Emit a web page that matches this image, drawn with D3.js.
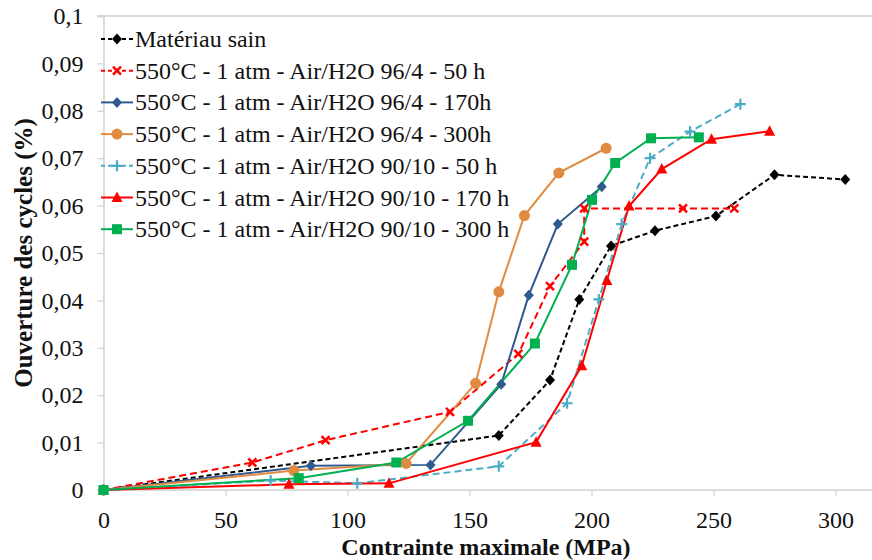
<!DOCTYPE html>
<html>
<head>
<meta charset="utf-8">
<script src="https://cdn.jsdelivr.net/npm/d3@7"></script>
</head>
<body style="margin:0;background:#fff">
<svg id="chart" width="872" height="560"></svg>
<script>
// ---- Data ----
const seriesNames = [
  "Matériau sain",
  "550°C - 1 atm - Air/H2O 96/4 - 50 h",
  "550°C - 1 atm - Air/H2O 96/4 - 170h",
  "550°C - 1 atm - Air/H2O 96/4 - 300h",
  "550°C - 1 atm - Air/H2O 90/10 - 50 h",
  "550°C - 1 atm - Air/H2O 90/10 - 170 h",
  "550°C - 1 atm - Air/H2O 90/10 - 300 h"
];
const sainX = [0, 162, 183, 195, 208, 226, 251, 275, 304];
const sainY = [0, 0.0115, 0.0232, 0.0402, 0.0515, 0.0547, 0.0578, 0.0665, 0.0655];
const a96_50X = [0, 61, 91, 142, 170, 183, 197, 197, 237.5, 258.5];
const a96_50Y = [0, 0.0058, 0.0105, 0.0165, 0.0287, 0.0430, 0.0524, 0.0594, 0.0594, 0.0594];
const a96_170X = [0, 85, 134, 163, 174.3, 186.2, 204.2];
const a96_170Y = [0, 0.0051, 0.0053, 0.0223, 0.0411, 0.0561, 0.0640];
const a96_300X = [0, 78, 124, 152.5, 162, 172.5, 186.6, 206];
const a96_300Y = [0, 0.0041, 0.0056, 0.0225, 0.0418, 0.0579, 0.0669, 0.0721];
const a90_50X = [0, 68.5, 104, 162, 190, 203, 212.4, 224, 240.4, 261];
const a90_50Y = [0, 0.0020, 0.0014, 0.0050, 0.0183, 0.0402, 0.0561, 0.0700, 0.0756, 0.0814];
const a90_170X = [0, 76, 117, 177.3, 196, 206.3, 215.4, 228.8, 249.2, 273];
const a90_170Y = [0, 0.0012, 0.0014, 0.0101, 0.0262, 0.0442, 0.0599, 0.0677, 0.0740, 0.0757];
const a90_300X = [0, 80, 120, 149.4, 176.8, 192, 200.2, 209.7, 224.4, 244];
const a90_300Y = [0, 0.0025, 0.0058, 0.0146, 0.0309, 0.0475, 0.0612, 0.0690, 0.0742, 0.0744];
const xTicks = [0, 50, 100, 150, 200, 250, 300];
const yTicks = [0, 0.01, 0.02, 0.03, 0.04, 0.05, 0.06, 0.07, 0.08, 0.09, 0.1];
const xTitle = "Contrainte maximale (MPa)";
const yTitle = "Ouverture des cycles (%)";

// ---- Styles ----
const styles = [
  { color: "#000000", dash: "5,3", marker: "diamond" },
  { color: "#ff0000", dash: "7,4", marker: "cross" },
  { color: "#2f5a8e", dash: null, marker: "diamond" },
  { color: "#e08b42", dash: null, marker: "circle" },
  { color: "#4bacc6", dash: "7,4", marker: "plus" },
  { color: "#ff0000", dash: null, marker: "triangle" },
  { color: "#00b050", dash: null, marker: "square" }
];
const xs = [sainX, a96_50X, a96_170X, a96_300X, a90_50X, a90_170X, a90_300X];
const ys = [sainY, a96_50Y, a96_170Y, a96_300Y, a90_50Y, a90_170Y, a90_300Y];
const series = seriesNames.map((name, i) => ({
  name, style: styles[i],
  pts: xs[i].map((x, j) => ({ x, y: ys[i][j] }))
}));

const FONT = '"Liberation Serif"';
const svg = d3.select("#chart");
const x = d3.scaleLinear().domain([0, 300]).range([103.5, 835.5]);
const y = d3.scaleLinear().domain([0, 0.1]).range([490, 16]);
const axisColor = "#d0d0d0";
const fmt = d => d === 0 ? "0" : d3.format(".2~f")(d).replace(".", ",");

// top border line
svg.append("line").attr("x1", 97).attr("x2", 872).attr("y1", y(0.1)).attr("y2", y(0.1))
  .attr("stroke", axisColor).attr("stroke-width", 1.5);

// Y axis
const yAxis = svg.append("g").attr("transform", `translate(${x(0)},0)`)
  .call(d3.axisLeft(y).tickValues(yTicks).tickFormat(fmt).tickSize(6).tickPadding(14));
yAxis.select(".domain").attr("stroke", axisColor).attr("stroke-width", 1.5);
yAxis.selectAll(".tick line").attr("stroke", axisColor).attr("stroke-width", 1.2);
yAxis.selectAll(".tick text").attr("fill", "#111")
  .style("font-family", FONT).style("font-size", "24px");

// X axis
const xAxis = svg.append("g").attr("transform", `translate(0,${y(0)})`)
  .call(d3.axisBottom(x).tickValues(xTicks).tickFormat(d3.format("d")).tickSize(6).tickPadding(15));
xAxis.select(".domain").remove();
xAxis.append("line").attr("x1", x(0)).attr("x2", 872).attr("y1", 0).attr("y2", 0)
  .attr("stroke", axisColor).attr("stroke-width", 1.5);
xAxis.selectAll(".tick line").attr("stroke", axisColor).attr("stroke-width", 1.2);
xAxis.selectAll(".tick text").attr("fill", "#111")
  .style("font-family", FONT).style("font-size", "24px");

// Axis titles
svg.append("text").attr("x", 486).attr("y", 555).attr("text-anchor", "middle")
  .style("font-family", FONT).style("font-size", "24px").style("font-weight", "bold")
  .attr("fill", "#111").text(xTitle);
svg.append("text").attr("transform", "translate(32,253) rotate(-90)").attr("text-anchor", "middle")
  .style("font-family", FONT).style("font-size", "25px").style("font-weight", "bold")
  .attr("fill", "#111").text(yTitle);

// Marker drawing
function drawMarker(g, type, color) {
  switch (type) {
    case "diamond":
      g.append("path").attr("d", "M0,-5.5L5,0L0,5.5L-5,0Z").attr("fill", color); break;
    case "circle":
      g.append("circle").attr("r", 5.5).attr("fill", color); break;
    case "square":
      g.append("rect").attr("x", -5).attr("y", -5).attr("width", 10).attr("height", 10).attr("fill", color); break;
    case "triangle":
      g.append("path").attr("d", "M0,-6L5.5,4.5L-5.5,4.5Z").attr("fill", color); break;
    case "cross":
      g.append("path").attr("d", "M-4,-4L4,4M-4,4L4,-4").attr("stroke", color).attr("stroke-width", 2.5); break;
    case "plus":
      g.append("path").attr("d", "M-5.5,0L5.5,0M0,-5.5L0,5.5").attr("stroke", color).attr("stroke-width", 2.2); break;
  }
}

// Lines
const line = d3.line().x(d => x(d.x)).y(d => y(d.y));
const plot = svg.append("g");
series.forEach(s => {
  plot.append("path").datum(s.pts).attr("d", line).attr("fill", "none")
    .attr("stroke", s.style.color).attr("stroke-width", 2)
    .attr("stroke-dasharray", s.style.dash);
});
series.forEach(s => {
  s.pts.forEach(p => {
    const g = plot.append("g").attr("transform", `translate(${x(p.x)},${y(p.y)})`);
    drawMarker(g, s.style.marker, s.style.color);
  });
});

// Legend
const legend = svg.append("g");
series.forEach((s, i) => {
  const cy = 39 + i * 31.7;
  const g = legend.append("g").attr("transform", `translate(0,${cy})`);
  g.append("line").attr("x1", 101).attr("x2", 133).attr("y1", 0).attr("y2", 0)
    .attr("stroke", s.style.color).attr("stroke-width", 2).attr("stroke-dasharray", s.style.dash ? "4,3" : null);
  const m = g.append("g").attr("transform", "translate(117,0)");
  drawMarker(m, s.style.marker, s.style.color);
  g.append("text").attr("x", 135).attr("y", 8)
    .style("font-family", FONT).style("font-size", "24px")
    .attr("fill", "#111").text(s.name);
});
</script>
</body>
</html>
